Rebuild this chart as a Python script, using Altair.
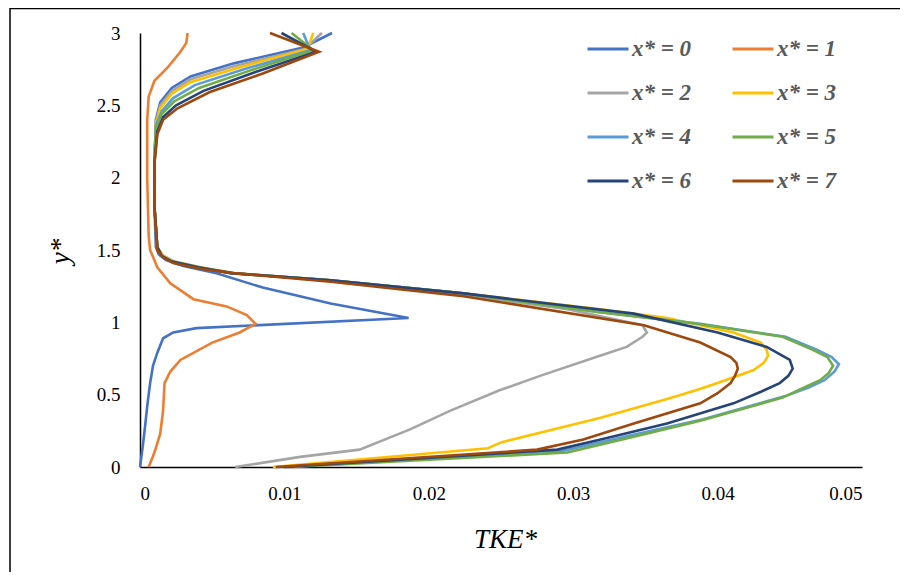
import altair as alt
import pandas as pd

SERIES = ["x* = 0", "x* = 1", "x* = 2", "x* = 3", "x* = 4", "x* = 5", "x* = 6", "x* = 7"]
COLORS = ["#4472C4", "#ED7D31", "#A5A5A5", "#FFC000", "#5B9BD5", "#70AD47", "#264478", "#9E480E"]
# legend fills column by column: list entries so that rows read 0 1 / 2 3 / 4 5 / 6 7
LEGEND_ORDER = [0, 2, 4, 6, 1, 3, 5, 7]

X_TICKS = [0, 0.01, 0.02, 0.03, 0.04, 0.05]
Y_TICKS = [0, 0.5, 1, 1.5, 2, 2.5, 3]

Y0 = [0, 0.15, 0.28, 0.42, 0.58, 0.7, 0.79, 0.89, 0.93, 0.96, 1.03, 1.13, 1.24, 1.34, 1.39, 1.43, 1.47, 1.52, 1.8, 2.1, 2.4, 2.52, 2.62, 2.7, 2.79, 2.9, 3.0]
X0 = [0, 0.0002, 0.00035, 0.0005, 0.0007, 0.0009, 0.0012, 0.0016, 0.0023, 0.0039, 0.0186, 0.0132, 0.0085, 0.0053, 0.003, 0.0018, 0.0013, 0.0011, 0.001, 0.001, 0.0011, 0.0014, 0.0022, 0.0035, 0.0065, 0.0113, 0.0133]

Y1 = [0, 0.1, 0.23, 0.39, 0.58, 0.66, 0.74, 0.86, 0.93, 0.99, 1.05, 1.11, 1.16, 1.27, 1.38, 1.5, 1.6, 2.0, 2.4, 2.56, 2.67, 2.76, 2.87, 2.93, 3.0]
X1 = [0.0006, 0.001, 0.0014, 0.0016, 0.0017, 0.0021, 0.0028, 0.005, 0.0069, 0.008, 0.0074, 0.006, 0.0037, 0.0021, 0.0012, 0.0007, 0.0006, 0.0005, 0.0005, 0.0006, 0.001, 0.0019, 0.0028, 0.0032, 0.0033]

Y2 = [0, 0.07, 0.12, 0.26, 0.39, 0.53, 0.63, 0.77, 0.83, 0.9, 0.93, 0.98, 1.09, 1.19, 1.29, 1.34, 1.38, 1.42, 1.46, 1.52, 1.8, 2.1, 2.38, 2.5, 2.6, 2.68, 2.77, 2.89, 3.0]
X2 = [0.0066, 0.0111, 0.0152, 0.0187, 0.0215, 0.0249, 0.0277, 0.0319, 0.0337, 0.0348, 0.0351, 0.0348, 0.0296, 0.0224, 0.0132, 0.0065, 0.0042, 0.0024, 0.0016, 0.0012, 0.001, 0.001, 0.0011, 0.0014, 0.0022, 0.0035, 0.0065, 0.0114, 0.0126]

Y3 = [0, 0.13, 0.17, 0.34, 0.47, 0.53, 0.58, 0.67, 0.72, 0.77, 0.81, 0.86, 0.93, 1.03, 1.09, 1.2, 1.29, 1.34, 1.38, 1.42, 1.46, 1.52, 1.8, 2.1, 2.37, 2.48, 2.58, 2.66, 2.76, 2.89, 3.0]
X3 = [0.0092, 0.0241, 0.025, 0.0319, 0.0365, 0.0385, 0.04, 0.0425, 0.0432, 0.0435, 0.0434, 0.043, 0.0411, 0.0365, 0.0319, 0.0224, 0.0132, 0.0064, 0.0041, 0.0023, 0.0016, 0.0012, 0.001, 0.001, 0.0011, 0.0014, 0.0022, 0.0035, 0.0068, 0.0116, 0.012]

Y4 = [0, 0.11, 0.22, 0.33, 0.49, 0.55, 0.6, 0.66, 0.71, 0.76, 0.81, 0.9, 0.99, 1.07, 1.2, 1.29, 1.34, 1.38, 1.42, 1.46, 1.52, 1.8, 2.1, 2.36, 2.46, 2.55, 2.64, 2.75, 2.88, 3.0]
X4 = [0.0102, 0.0292, 0.034, 0.039, 0.0447, 0.0463, 0.0474, 0.0481, 0.0484, 0.0479, 0.0469, 0.0447, 0.0388, 0.0319, 0.0224, 0.0132, 0.0063, 0.004, 0.0022, 0.0015, 0.0012, 0.001, 0.001, 0.0011, 0.0015, 0.0023, 0.0038, 0.0072, 0.0118, 0.0113]

Y5 = [0, 0.1, 0.21, 0.32, 0.48, 0.55, 0.6, 0.65, 0.7, 0.76, 0.81, 0.9, 0.99, 1.07, 1.2, 1.29, 1.34, 1.38, 1.42, 1.46, 1.52, 1.8, 2.1, 2.34, 2.44, 2.53, 2.62, 2.74, 2.88, 3.0]
X5 = [0.0105, 0.0296, 0.0342, 0.0388, 0.0445, 0.046, 0.0471, 0.0477, 0.048, 0.0476, 0.0466, 0.0445, 0.0386, 0.0318, 0.0224, 0.0132, 0.0063, 0.004, 0.0022, 0.0015, 0.0012, 0.001, 0.001, 0.0011, 0.0015, 0.0024, 0.0041, 0.0076, 0.012, 0.0105]

Y6 = [0, 0.12, 0.19, 0.3, 0.44, 0.52, 0.58, 0.63, 0.68, 0.74, 0.83, 0.93, 1.06, 1.2, 1.29, 1.34, 1.38, 1.42, 1.46, 1.52, 1.8, 2.1, 2.32, 2.42, 2.5, 2.6, 2.73, 2.87, 3.0]
X6 = [0.01, 0.0289, 0.0319, 0.0365, 0.0411, 0.043, 0.0443, 0.0449, 0.0452, 0.045, 0.0434, 0.04, 0.0342, 0.0224, 0.0132, 0.0063, 0.004, 0.0022, 0.0015, 0.0012, 0.001, 0.001, 0.0012, 0.0016, 0.0025, 0.0044, 0.008, 0.0122, 0.0098]

Y7 = [0, 0.12, 0.19, 0.3, 0.44, 0.51, 0.58, 0.63, 0.68, 0.72, 0.76, 0.86, 0.98, 1.18, 1.28, 1.34, 1.37, 1.41, 1.45, 1.5, 1.8, 2.1, 2.3, 2.4, 2.48, 2.59, 2.72, 2.87, 3.0]
X7 = [0.0094, 0.0275, 0.0307, 0.0342, 0.0388, 0.04, 0.0409, 0.0412, 0.0414, 0.0413, 0.0409, 0.0388, 0.0349, 0.0224, 0.0132, 0.0065, 0.0042, 0.0023, 0.0016, 0.0012, 0.001, 0.001, 0.0012, 0.0016, 0.0026, 0.0048, 0.0085, 0.0124, 0.009]

XS = [X0, X1, X2, X3, X4, X5, X6, X7]
YS = [Y0, Y1, Y2, Y3, Y4, Y5, Y6, Y7]

rows = []
for k, (name, xs, ys) in enumerate(zip(SERIES, XS, YS)):
    for i, (xv, yv) in enumerate(zip(xs, ys)):
        rows.append({"series": name, "k": k, "tke": xv, "y": yv, "idx": i})
df = pd.DataFrame(rows)

FONT = "Liberation Serif, Times New Roman, serif"

legend_domain = [SERIES[i] for i in LEGEND_ORDER]
legend_range = [COLORS[i] for i in LEGEND_ORDER]

lines = alt.Chart(df).mark_line(strokeWidth=2.6).encode(
    x=alt.X("tke:Q",
            scale=alt.Scale(domain=[0, 0.05], nice=False, zero=False),
            axis=alt.Axis(values=X_TICKS, format=".2~f", title="TKE*",
                          labelPadding=17, titleX=365, titleY=72,
                          titleAlign="center", titleBaseline="middle")),
    y=alt.Y("y:Q",
            scale=alt.Scale(domain=[0, 3], nice=False),
            axis=alt.Axis(values=Y_TICKS, format=".1~f", title="y*",
                          labelPadding=20, titleX=-80, titleY=218,
                          titleAlign="center", titleBaseline="middle")),
    color=alt.Color("series:N",
                    scale=alt.Scale(domain=legend_domain, range=legend_range),
                    legend=alt.Legend(title=None, orient="none", legendX=446, legendY=-6,
                                      columns=2, symbolType="stroke", symbolSize=1681,
                                      symbolStrokeWidth=3, labelFont=FONT, labelFontSize=23,
                                      labelFontWeight="bold", labelFontStyle="italic",
                                      labelColor="#595959", labelOffset=2,
                                      rowPadding=10, columnPadding=34)),
    order=alt.Order("idx:Q"),
)

border = alt.Chart(pd.DataFrame({"b": [0]})).mark_rect(
    fill="white", fillOpacity=0, stroke="black", strokeWidth=1.5
).encode(x=alt.value(-130), x2=alt.value(800), y=alt.value(-24.5), y2=alt.value(600))

chart = alt.layer(border, lines).properties(
    width=722, height=434,
    autosize=alt.AutoSizeParams(type="none"),
    padding={"left": 132, "top": 25, "right": 38, "bottom": 105},
).configure_view(strokeWidth=0).configure_axis(
    domainColor="black", domainWidth=1.5, ticks=False, grid=False,
    labelFont=FONT, labelFontSize=19, labelColor="black",
    titleFont=FONT, titleFontSize=27, titleFontStyle="italic",
    titleFontWeight="normal", titleColor="black",
)

chart.save("out.html", embed_options={"renderer": "svg", "actions": False})
